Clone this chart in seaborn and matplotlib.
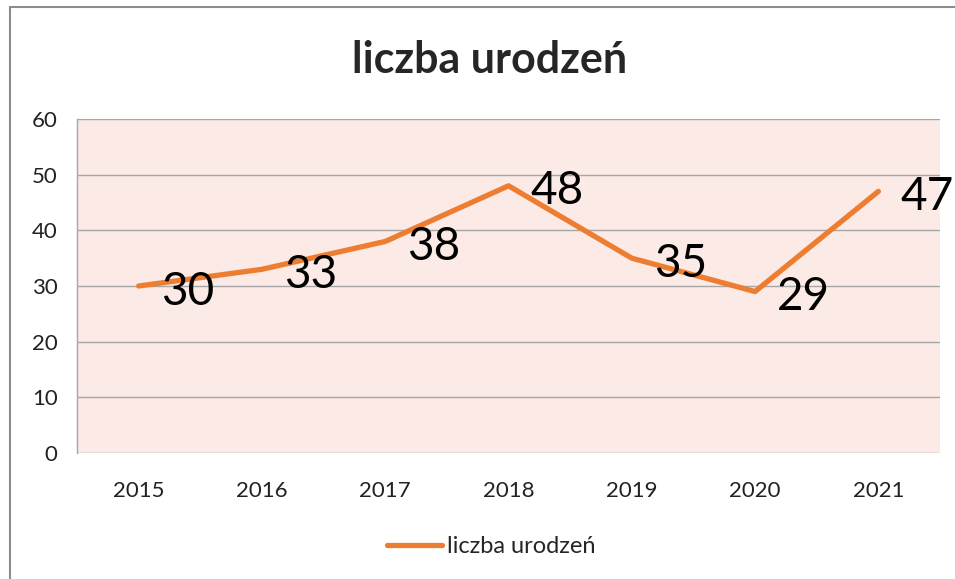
import matplotlib
matplotlib.use("Agg")
import matplotlib.pyplot as plt
import seaborn as sns
import pandas as pd
from matplotlib.lines import Line2D

# dane
lata = ["2015", "2016", "2017", "2018", "2019", "2020", "2021"]
urodzenia = [30, 33, 38, 48, 35, 29, 47]
seria = "liczba urodzeń"

df = pd.DataFrame({"rok": lata, "liczba": urodzenia})

sns.set_style("white")
plt.rcParams["font.family"] = ["Lato", "DejaVu Sans"]

pomarancz = "#ED7D31"
siatka = "#A6A6A6"

fig = plt.figure(figsize=(9.55, 5.79), dpi=100)
ax = fig.add_axes([77 / 955, 1 - 453 / 579, (940 - 77) / 955, (453 - 119) / 579])
ax.set_facecolor("#FBEAE5")

sns.lineplot(data=df, x="rok", y="liczba", ax=ax, color=pomarancz, linewidth=3.8,
             sort=False, solid_capstyle="round", label=seria)

# etykiety danych
for i, v in enumerate(urodzenia):
    ax.annotate(str(v), (i, v), xytext=(16, -4), textcoords="offset points",
                ha="left", va="center", fontsize=33, color="black", clip_on=False)

ax.set_xlim(-0.5, len(lata) - 0.5)
ax.set_ylim(0, 60)
ax.set_yticks(range(0, 61, 10))
ax.grid(axis="y", color=siatka, linewidth=1)
ax.set_axisbelow(True)
for s in ["top", "right", "bottom"]:
    ax.spines[s].set_visible(False)
ax.spines["left"].set_color(siatka)
ax.spines["left"].set_linewidth(1)
ax.tick_params(axis="both", length=0, labelsize=16, colors="#222222")
ax.tick_params(axis="x", pad=20)
ax.tick_params(axis="y", pad=14)
ax.set_xlabel("")
ax.set_ylabel("")

fig.text(490 / 955, 1 - 60 / 579, "liczba urodzeń", ha="center", va="center",
         fontsize=31, fontweight="bold")

ax.legend(handles=[Line2D([0], [0], color=pomarancz, lw=3.8, solid_capstyle="round")],
          labels=[seria], loc="center", bbox_to_anchor=(0.48, -0.28),
          frameon=False, fontsize=17, handlelength=2.3, handletextpad=0.2)

# ramka wykresu
fig.add_artist(Line2D([9.5 / 955, 9.5 / 955], [0, 1 - 7 / 579], color="#8C8C8C", lw=1.5))
fig.add_artist(Line2D([9.5 / 955, 1], [1 - 7 / 579, 1 - 7 / 579], color="#8C8C8C", lw=1.5))

fig.savefig("out.png", dpi=100)
